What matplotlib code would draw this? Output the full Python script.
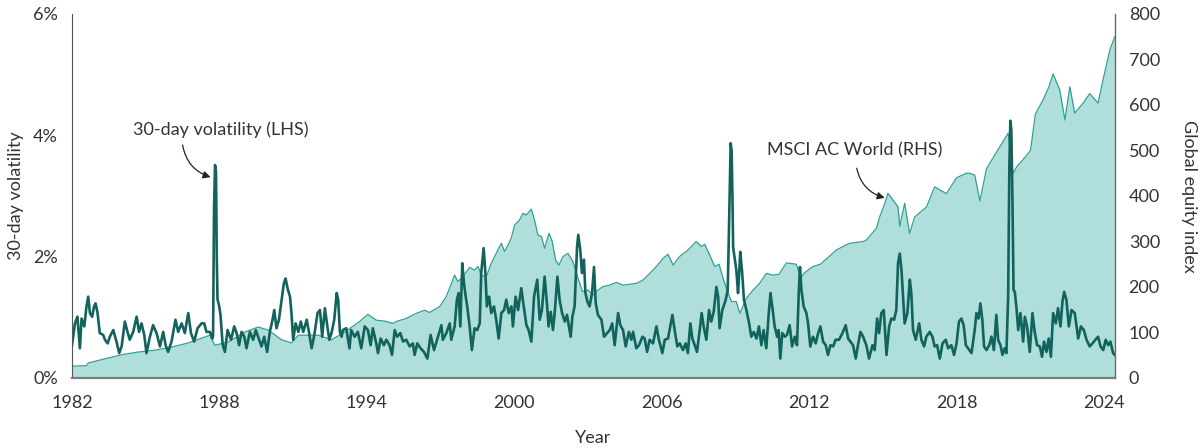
import matplotlib
matplotlib.use("Agg")
import matplotlib.pyplot as plt

plt.rcParams['font.family'] = ['Lato', 'DejaVu Sans']

# MSCI AC World index level (right axis)
index_years = [
    1982.00, 1982.59, 1982.66, 1983.33, 1984.01, 1984.69, 1985.37, 1986.05, 1986.73, 1987.40,
    1987.61, 1987.81, 1988.36, 1989.03, 1989.58, 1989.99, 1990.53, 1990.93, 1991.21, 1992.02,
    1992.56, 1993.10, 1993.70, 1994.04, 1994.38, 1994.72, 1995.06, 1995.19, 1995.60, 1996.01,
    1996.35, 1996.55, 1996.96, 1997.23, 1997.57, 1997.70, 1997.91, 1998.18, 1998.38, 1998.52,
    1998.65, 1998.86, 1999.06, 1999.26, 1999.47, 1999.60, 1999.74, 1999.87, 2000.01, 2000.21,
    2000.35, 2000.48, 2000.69, 2000.82, 2000.96, 2001.10, 2001.23, 2001.41, 2001.54, 2001.68,
    2001.81, 2001.98, 2002.18, 2002.38, 2002.59, 2002.77, 2003.00, 2003.20, 2003.40, 2003.61,
    2003.88, 2004.15, 2004.42, 2004.69, 2004.96, 2005.23, 2005.51, 2005.78, 2006.05, 2006.25,
    2006.46, 2006.72, 2007.06, 2007.40, 2007.61, 2007.74, 2007.95, 2008.15, 2008.33, 2008.49,
    2008.63, 2008.83, 2009.03, 2009.17, 2009.44, 2009.71, 2009.98, 2010.25, 2010.52, 2010.77,
    2011.07, 2011.47, 2011.65, 2011.80, 2012.15, 2012.45, 2013.10, 2013.37, 2013.64, 2014.19,
    2014.32, 2014.73, 2014.87, 2015.05, 2015.20, 2015.61, 2015.68, 2015.88, 2016.08, 2016.29,
    2016.77, 2017.10, 2017.58, 2017.99, 2018.39, 2018.53, 2018.73, 2018.94, 2019.21, 2019.75,
    2020.09, 2020.29, 2020.45, 2020.70, 2021.00, 2021.20, 2021.51, 2021.75, 2021.92, 2022.19,
    2022.40, 2022.60, 2022.80, 2023.14, 2023.41, 2023.75, 2023.95, 2024.23, 2024.43,
]
index_values = [
    26, 27, 33, 42, 51, 57, 61, 68, 77, 90,
    94, 72, 79, 101, 112, 105, 84, 77, 94, 94,
    84, 101, 124, 140, 127, 125, 120, 124, 131, 142,
    149, 144, 157, 179, 226, 212, 223, 243, 237, 245,
    226, 223, 252, 274, 296, 278, 292, 307, 336, 347,
    362, 358, 371, 347, 314, 311, 285, 318, 300, 259,
    248, 267, 274, 256, 219, 190, 193, 182, 193, 201,
    204, 210, 204, 206, 208, 215, 230, 245, 263, 272,
    248, 267, 281, 300, 289, 294, 270, 245, 250, 219,
    197, 168, 168, 142, 175, 193, 208, 230, 226, 228,
    253, 250, 220, 231, 245, 250, 281, 289, 296, 300,
    303, 329, 355, 380, 406, 376, 333, 384, 318, 354,
    376, 420, 405, 440, 450, 450, 446, 389, 460, 508,
    538, 450, 465, 480, 500, 580, 611, 640, 668, 633,
    567, 640, 582, 604, 625, 604, 655, 721, 750,
]

# 30-day volatility in % (left axis)
vol_years = [
    1982.00, 1982.12, 1982.22, 1982.32, 1982.39, 1982.50, 1982.59, 1982.66, 1982.73, 1982.82,
    1982.90, 1982.96, 1983.04, 1983.13, 1983.27, 1983.34, 1983.45, 1983.54, 1983.68, 1983.81,
    1983.92, 1984.02, 1984.15, 1984.26, 1984.35, 1984.49, 1984.63, 1984.73, 1984.83, 1984.94,
    1985.03, 1985.17, 1985.30, 1985.44, 1985.58, 1985.71, 1985.81, 1985.91, 1986.05, 1986.21,
    1986.32, 1986.46, 1986.59, 1986.73, 1986.84, 1986.97, 1987.11, 1987.27, 1987.38, 1987.47,
    1987.61, 1987.71, 1987.74, 1987.78, 1987.82, 1987.86, 1987.89, 1987.92, 1987.98, 1988.04,
    1988.13, 1988.22, 1988.33, 1988.47, 1988.60, 1988.70, 1988.80, 1988.90, 1989.01, 1989.10,
    1989.24, 1989.37, 1989.48, 1989.60, 1989.71, 1989.82, 1989.94, 1990.05, 1990.16, 1990.23,
    1990.32, 1990.42, 1990.53, 1990.62, 1990.69, 1990.77, 1990.87, 1990.93, 1991.00, 1991.10,
    1991.21, 1991.31, 1991.41, 1991.55, 1991.64, 1991.75, 1991.86, 1991.99, 1992.09, 1992.18,
    1992.29, 1992.39, 1992.47, 1992.56, 1992.67, 1992.77, 1992.83, 1992.90, 1992.97, 1993.02,
    1993.16, 1993.29, 1993.36, 1993.50, 1993.63, 1993.77, 1993.91, 1994.04, 1994.15, 1994.24,
    1994.38, 1994.45, 1994.56, 1994.69, 1994.79, 1994.92, 1995.02, 1995.13, 1995.23, 1995.36,
    1995.47, 1995.60, 1995.74, 1995.87, 1995.94, 1996.05, 1996.18, 1996.32, 1996.46, 1996.59,
    1996.73, 1996.89, 1997.03, 1997.09, 1997.23, 1997.37, 1997.43, 1997.57, 1997.66, 1997.73,
    1997.80, 1997.88, 1997.95, 1998.02, 1998.08, 1998.18, 1998.27, 1998.38, 1998.49, 1998.59,
    1998.65, 1998.75, 1998.82, 1998.88, 1998.97, 1999.06, 1999.17, 1999.26, 1999.36, 1999.47,
    1999.58, 1999.67, 1999.77, 1999.88, 1999.94, 2000.05, 2000.15, 2000.28, 2000.38, 2000.49,
    2000.58, 2000.69, 2000.80, 2000.93, 2001.03, 2001.12, 2001.23, 2001.33, 2001.39, 2001.48,
    2001.57, 2001.64, 2001.75, 2001.84, 2001.94, 2002.05, 2002.14, 2002.22, 2002.29, 2002.36,
    2002.45, 2002.55, 2002.60, 2002.68, 2002.75, 2002.83, 2002.89, 2002.97, 2003.06, 2003.16,
    2003.24, 2003.31, 2003.40, 2003.54, 2003.65, 2003.88, 2003.98, 2004.08, 2004.22, 2004.31,
    2004.42, 2004.53, 2004.66, 2004.76, 2004.83, 2004.96, 2005.07, 2005.21, 2005.30, 2005.40,
    2005.50, 2005.64, 2005.78, 2005.88, 2006.02, 2006.12, 2006.25, 2006.43, 2006.52, 2006.63,
    2006.73, 2006.86, 2006.97, 2007.06, 2007.16, 2007.24, 2007.34, 2007.43, 2007.54, 2007.62,
    2007.70, 2007.81, 2007.92, 2008.01, 2008.11, 2008.22, 2008.29, 2008.35, 2008.46, 2008.60,
    2008.68, 2008.72, 2008.80, 2008.84, 2008.88, 2008.90, 2009.03, 2009.10, 2009.14, 2009.19,
    2009.26, 2009.34, 2009.44, 2009.55, 2009.64, 2009.74, 2009.85, 2009.95, 2010.05, 2010.14,
    2010.25, 2010.35, 2010.42, 2010.50, 2010.59, 2010.69, 2010.75, 2010.82, 2010.90, 2011.01,
    2011.09, 2011.20, 2011.30, 2011.41, 2011.50, 2011.57, 2011.62, 2011.68, 2011.77, 2011.88,
    2011.95, 2012.04, 2012.15, 2012.26, 2012.36, 2012.45, 2012.56, 2012.67, 2012.76, 2012.86,
    2012.97, 2013.07, 2013.21, 2013.35, 2013.48, 2013.58, 2013.67, 2013.78, 2013.89, 2013.98,
    2014.08, 2014.19, 2014.32, 2014.43, 2014.57, 2014.66, 2014.76, 2014.84, 2014.93, 2015.03,
    2015.14, 2015.25, 2015.34, 2015.45, 2015.54, 2015.61, 2015.68, 2015.75, 2015.82, 2015.88,
    2015.99, 2016.09, 2016.15, 2016.22, 2016.33, 2016.47, 2016.56, 2016.67, 2016.76, 2016.90,
    2017.01, 2017.10, 2017.20, 2017.31, 2017.42, 2017.55, 2017.65, 2017.78, 2017.89, 2017.99,
    2018.09, 2018.19, 2018.28, 2018.37, 2018.46, 2018.60, 2018.73, 2018.80, 2018.89, 2018.96,
    2019.04, 2019.11, 2019.21, 2019.32, 2019.41, 2019.51, 2019.61, 2019.68, 2019.78, 2019.86,
    2019.95, 2020.02, 2020.09, 2020.14, 2020.18, 2020.22, 2020.27, 2020.31, 2020.36, 2020.43,
    2020.50, 2020.59, 2020.70, 2020.77, 2020.86, 2020.97, 2021.08, 2021.17, 2021.27, 2021.38,
    2021.47, 2021.55, 2021.65, 2021.74, 2021.83, 2021.92, 2022.03, 2022.12, 2022.22, 2022.30,
    2022.37, 2022.46, 2022.56, 2022.67, 2022.80, 2022.94, 2023.05, 2023.17, 2023.28, 2023.41,
    2023.52, 2023.64, 2023.75, 2023.85, 2023.96, 2024.06, 2024.16, 2024.25, 2024.36, 2024.43,
]
vol_values = [
    0.54, 0.90, 1.01, 0.49, 0.98, 0.85, 1.18, 1.34, 1.07, 1.01,
    1.18, 1.23, 1.07, 0.74, 0.71, 0.63, 0.57, 0.68, 0.79, 0.60,
    0.41, 0.52, 0.93, 0.76, 0.63, 0.76, 1.01, 0.76, 0.90, 0.71,
    0.41, 0.68, 0.87, 0.74, 0.52, 0.76, 0.54, 0.43, 0.60, 0.96,
    0.76, 0.90, 0.74, 1.07, 0.74, 0.60, 0.82, 0.90, 0.90, 0.76,
    0.76, 0.65, 0.70, 2.80, 3.51, 3.40, 2.00, 1.30, 1.20, 1.05,
    0.55, 0.43, 0.79, 0.63, 0.85, 0.74, 0.54, 0.76, 0.68, 0.49,
    0.76, 0.63, 0.79, 0.65, 0.52, 0.68, 0.43, 0.76, 0.96, 1.12,
    0.82, 0.96, 1.29, 1.56, 1.64, 1.48, 1.34, 1.07, 0.63, 0.90,
    0.76, 0.93, 0.76, 0.96, 0.76, 0.49, 0.71, 1.07, 1.12, 0.68,
    1.15, 0.85, 0.63, 0.74, 0.96, 1.40, 1.29, 0.76, 0.68, 0.79,
    0.82, 0.49, 0.79, 0.68, 0.76, 0.49, 0.85, 0.79, 0.54, 0.82,
    0.57, 0.41, 0.65, 0.54, 0.63, 0.54, 0.38, 0.79, 0.68, 0.74,
    0.60, 0.63, 0.52, 0.57, 0.38, 0.57, 0.49, 0.43, 0.32, 0.71,
    0.46, 0.68, 0.87, 0.63, 0.74, 0.90, 0.63, 0.85, 1.29, 1.40,
    0.85, 1.89, 1.56, 1.34, 1.18, 0.85, 0.46, 0.82, 0.79, 0.90,
    1.73, 2.14, 1.73, 1.18, 1.34, 1.07, 1.18, 0.96, 0.65, 1.07,
    1.12, 1.29, 1.07, 1.18, 0.85, 1.34, 1.12, 1.48, 1.18, 0.87,
    0.79, 0.60, 1.34, 1.62, 0.96, 1.12, 1.67, 1.20, 0.85, 1.09,
    0.79, 1.07, 1.67, 1.29, 1.07, 0.93, 1.04, 0.85, 0.68, 1.01,
    1.18, 2.16, 2.36, 2.11, 1.73, 1.95, 1.40, 1.26, 1.18, 1.40,
    1.83, 1.23, 1.04, 0.96, 0.68, 0.79, 0.90, 0.54, 1.07, 0.87,
    0.79, 0.52, 0.76, 0.63, 0.76, 0.49, 0.54, 0.68, 0.65, 0.43,
    0.63, 0.57, 0.85, 0.63, 0.41, 0.63, 0.65, 1.04, 0.79, 0.52,
    0.57, 0.46, 0.57, 0.41, 0.90, 0.65, 0.54, 0.43, 0.79, 1.07,
    0.85, 0.63, 1.12, 0.93, 1.09, 1.50, 1.34, 0.82, 1.12, 1.29,
    1.45, 2.22, 3.87, 3.75, 2.80, 2.16, 1.78, 1.40, 1.67, 2.08,
    1.78, 1.29, 1.12, 0.90, 0.68, 0.76, 0.65, 0.85, 0.54, 0.79,
    0.49, 1.07, 1.40, 1.15, 0.85, 0.68, 0.79, 0.32, 0.74, 0.68,
    0.71, 0.87, 0.52, 0.68, 0.54, 1.40, 1.83, 1.45, 1.18, 1.07,
    0.90, 0.52, 0.68, 0.57, 0.74, 0.85, 0.60, 0.54, 0.38, 0.54,
    0.52, 0.63, 0.63, 0.74, 0.87, 0.65, 0.60, 0.54, 0.32, 0.54,
    0.76, 0.68, 0.54, 0.32, 0.54, 0.46, 0.98, 0.74, 1.07, 1.12,
    0.38, 0.85, 0.98, 0.96, 1.12, 1.89, 2.05, 1.78, 1.29, 0.90,
    1.07, 1.62, 1.40, 0.79, 0.63, 0.90, 0.63, 0.52, 0.68, 0.76,
    0.68, 0.52, 0.54, 0.32, 0.57, 0.63, 0.49, 0.54, 0.38, 0.57,
    0.93, 0.98, 0.87, 0.54, 0.49, 0.41, 0.79, 1.07, 0.98, 1.23,
    0.96, 0.52, 0.46, 0.54, 0.68, 0.46, 1.04, 0.63, 0.54, 0.38,
    0.49, 0.41, 1.34, 3.50, 4.24, 4.10, 2.80, 1.45, 1.42, 1.15,
    0.79, 1.07, 0.60, 1.01, 0.85, 0.43, 1.07, 0.76, 0.54, 0.52,
    0.35, 0.60, 0.43, 0.65, 0.35, 1.07, 0.90, 1.15, 0.85, 1.26,
    1.42, 1.29, 0.85, 1.12, 1.07, 0.65, 0.85, 0.79, 0.63, 0.52,
    0.57, 0.63, 0.68, 0.52, 0.46, 0.63, 0.54, 0.60, 0.41, 0.38,
]

year_ticks = [1982, 1988, 1994, 2000, 2006, 2012, 2018, 2024]
vol_ticks = [0, 2, 4, 6]
index_ticks = [0, 100, 200, 300, 400, 500, 600, 700, 800]

FILL = "#b0dfdb"
INDEX_LINE = "#2ba197"
VOL_LINE = "#12635d"
TEXT = "#333333"
FS = 13


def main():
    fig = plt.figure(figsize=(12, 4.48), dpi=100)
    ax = fig.add_axes([0.06, 0.1563, 0.869, 0.8125])
    ax2 = ax.twinx()

    # equity index on the right axis, drawn underneath
    ax2.fill_between(index_years, index_values, 0, color=FILL, lw=0)
    ax2.plot(index_years, index_values, color=INDEX_LINE, lw=0.9)
    ax2.set_ylim(0, 800)
    ax2.set_yticks(index_ticks)

    # volatility on the left axis, drawn on top
    ax.set_zorder(ax2.get_zorder() + 1)
    ax.patch.set_visible(False)
    ax.plot(vol_years, vol_values, color=VOL_LINE, lw=1.9, solid_joinstyle="round")
    ax.set_ylim(0, 6)
    ax.set_yticks(vol_ticks)
    ax.set_yticklabels([f"{v}%" for v in vol_ticks])
    ax.set_xlim(1982, 2024.43)
    ax.set_xticks(year_ticks)

    for a in (ax, ax2):
        a.spines["top"].set_visible(False)
        a.tick_params(length=0, labelsize=FS, colors=TEXT, pad=10)
    ax.tick_params(axis="x", pad=12)
    ax.spines["left"].set_color("#555555")
    ax.spines["bottom"].set_color("#7a7a7a")
    ax.spines["bottom"].set_linewidth(1.6)
    ax.spines["right"].set_visible(False)
    ax2.spines["left"].set_visible(False)
    ax2.spines["bottom"].set_visible(False)
    ax2.spines["right"].set_color("#6a6a6a")
    ax2.spines["right"].set_linewidth(1.0)

    ax.set_ylabel("30-day volatility", fontsize=FS, color=TEXT, labelpad=7)
    ax2.set_ylabel("Global equity index", fontsize=FS, color=TEXT,
                   rotation=-90, labelpad=27)
    ax.set_xlabel("Year", fontsize=FS, color=TEXT, labelpad=14)

    arrow = dict(arrowstyle="-|>", color="#222222", lw=0.9,
                 connectionstyle="arc3,rad=0.3", mutation_scale=11,
                 shrinkA=0, shrinkB=0)
    ax.text(1988.04, 4.09, "30-day volatility (LHS)", fontsize=FS,
            color=TEXT, ha="center", va="center")
    ax.annotate("", xy=(1987.64, 3.31), xytext=(1986.50, 3.84), arrowprops=arrow)

    ax2.text(2013.85, 501, "MSCI AC World (RHS)", fontsize=FS,
             color=TEXT, ha="center", va="center")
    ax2.annotate("", xy=(2015.07, 396), xytext=(2013.93, 461), arrowprops=arrow)

    fig.savefig("out.png", dpi=100)
    plt.close(fig)


if __name__ == "__main__":
    main()
